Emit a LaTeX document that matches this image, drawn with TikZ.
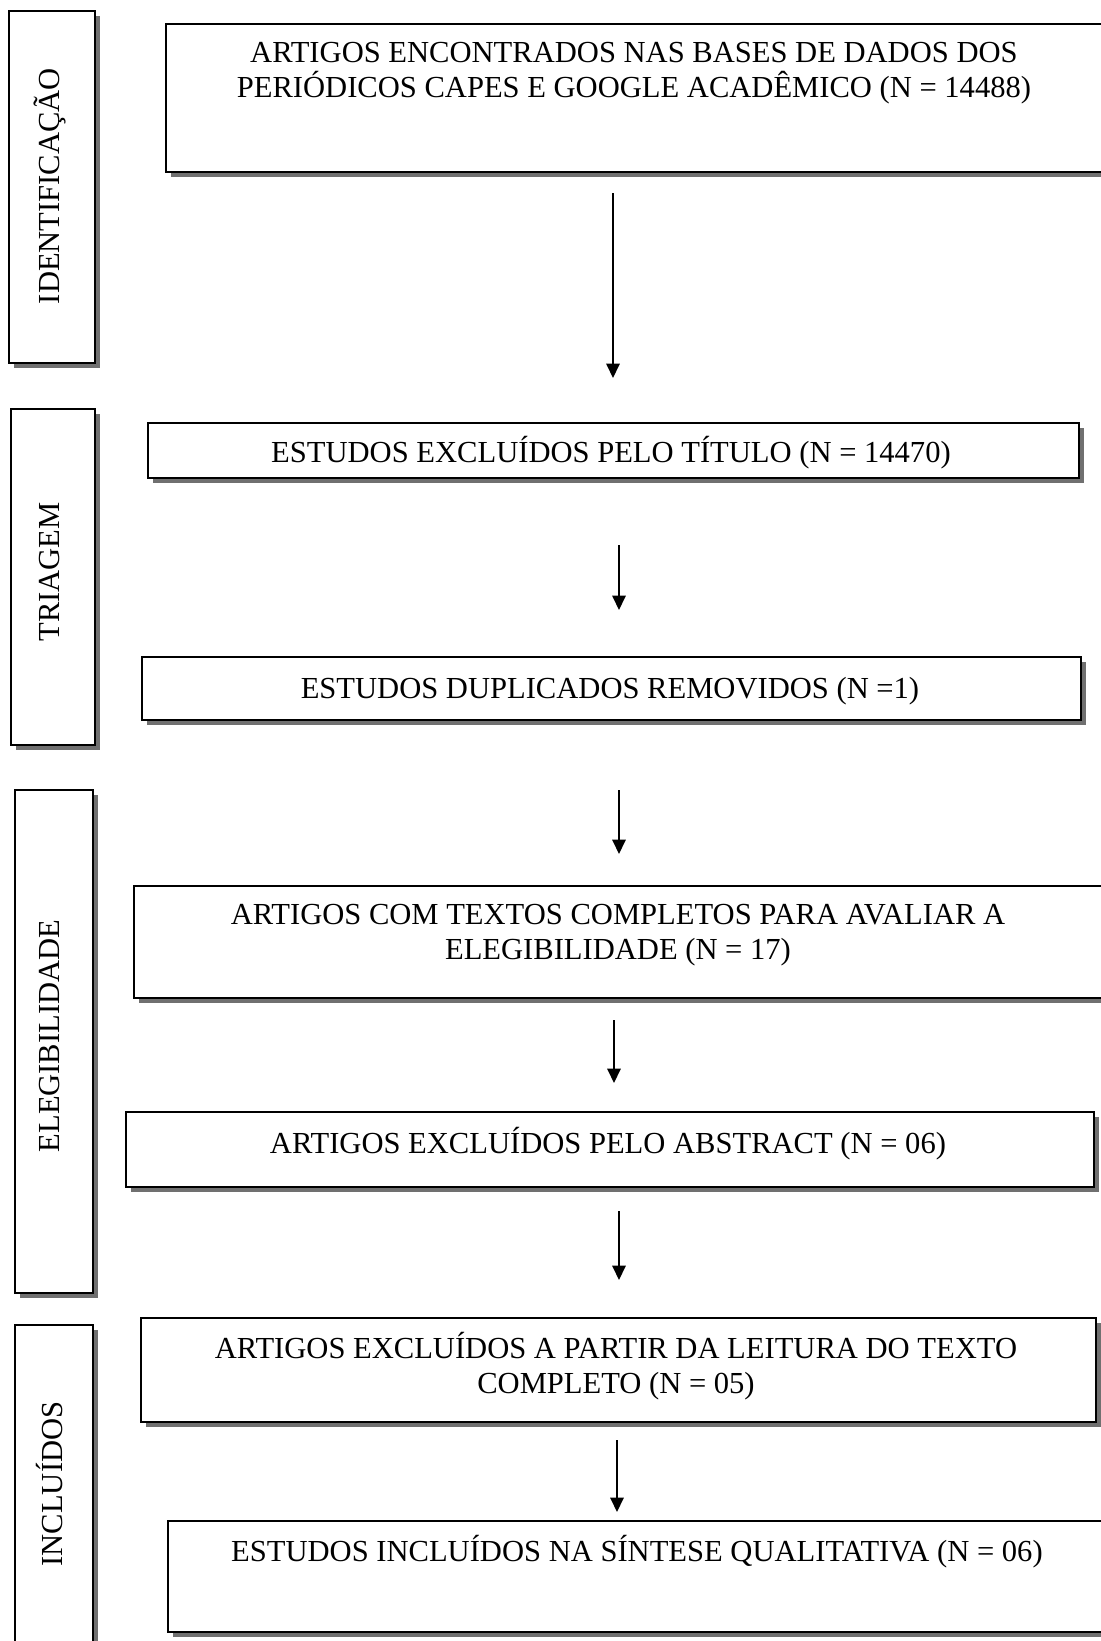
\documentclass[tikz,border=0pt]{standalone}
\usepackage{fontspec}
\setmainfont{Liberation Serif}
\usetikzlibrary{arrows.meta}
\usetikzlibrary{shadows}

\tikzset{
  caixa/.style={draw, line width=1.1pt, fill=white, inner sep=0pt,
    drop shadow={shadow xshift=0.1cm, shadow yshift=-0.1cm, fill=black!70, opacity=0.8}},
  rotulo/.style={font=\fontsize{17.4pt}{19.9pt}\selectfont, align=center, inner sep=0pt},
  seta/.style={line width=1pt, ->, >={Triangle[length=0.29cm,width=0.27cm]}}
}

\begin{document}
\begin{tikzpicture}[x=0.02cm, y=-0.02cm]
\useasboundingbox (0,0) rectangle (1100,1641);
% fases (coluna da esquerda)
\node[caixa, minimum width=1.72cm, minimum height=7.04cm] (fId) at (52,187) {};
\node[caixa, minimum width=1.68cm, minimum height=6.72cm] (fTri) at (53,577) {};
\node[caixa, minimum width=1.56cm, minimum height=10.06cm] (fEle) at (54,1041.5) {};
\node[caixa, minimum width=1.56cm, minimum height=6.4cm] (fInc) at (54,1485) {};
\node[rotulo, rotate=90] (tId) at (50,186) {IDENTIFICAÇÃO};
\node[rotulo, rotate=90] (tTri) at (50,572) {TRIAGEM};
\node[rotulo, rotate=90] (tEle) at (50,1036) {ELEGIBILIDADE};
\node[rotulo, rotate=90] (tInc) at (50,1484) {INCLUÍDOS};

% etapas
\node[caixa, minimum width=18.72cm, minimum height=2.96cm] (b1) at (634,98) {};
\node[caixa, minimum width=18.62cm, minimum height=1.1cm] (b2) at (613.5,450.5) {};
\node[caixa, minimum width=18.78cm, minimum height=1.26cm] (b3) at (611.5,688.5) {};
\node[caixa, minimum width=19.36cm, minimum height=2.24cm] (b4) at (618,942) {};
\node[caixa, minimum width=19.36cm, minimum height=1.5cm] (b5) at (610,1149.5) {};
\node[caixa, minimum width=19.1cm, minimum height=2.08cm] (b6) at (618.5,1370) {};
\node[caixa, minimum width=18.76cm, minimum height=2.22cm] (b7) at (637,1576.5) {};

\node[rotulo] (t1) at (634,73.5) {ARTIGOS ENCONTRADOS NAS BASES DE DADOS DOS\\PERIÓDICOS CAPES E GOOGLE ACADÊMICO (N = 14488)};
\node[rotulo] (t2) at (611,453) {ESTUDOS EXCLUÍDOS PELO TÍTULO (N = 14470)};
\node[rotulo] (t3) at (610,691) {ESTUDOS DUPLICADOS REMOVIDOS (N =1)};
\node[rotulo] (t4) at (618,935.5) {ARTIGOS COM TEXTOS COMPLETOS PARA AVALIAR A\\ELEGIBILIDADE (N = 17)};
\node[rotulo] (t5) at (608,1144) {ARTIGOS EXCLUÍDOS PELO ABSTRACT (N = 06)};
\node[rotulo] (t6) at (616,1366) {ARTIGOS EXCLUÍDOS A PARTIR DA LEITURA DO TEXTO\\COMPLETO (N = 05)};
\node[rotulo] (t7) at (637,1552) {ESTUDOS INCLUÍDOS NA SÍNTESE QUALITATIVA (N = 06)};

% setas
\foreach \i/\x/\ya/\yb in {1/613/193/378, 2/619/545/610, 3/619/790/854,
                           4/614/1020/1083, 5/619/1211/1280, 6/617/1440/1512} {
  \coordinate (s\i a) at (\x,\ya);
  \coordinate (s\i b) at (\x,\yb);
  \draw[seta] (s\i a) -- (s\i b);
}
\end{tikzpicture}
\end{document}
